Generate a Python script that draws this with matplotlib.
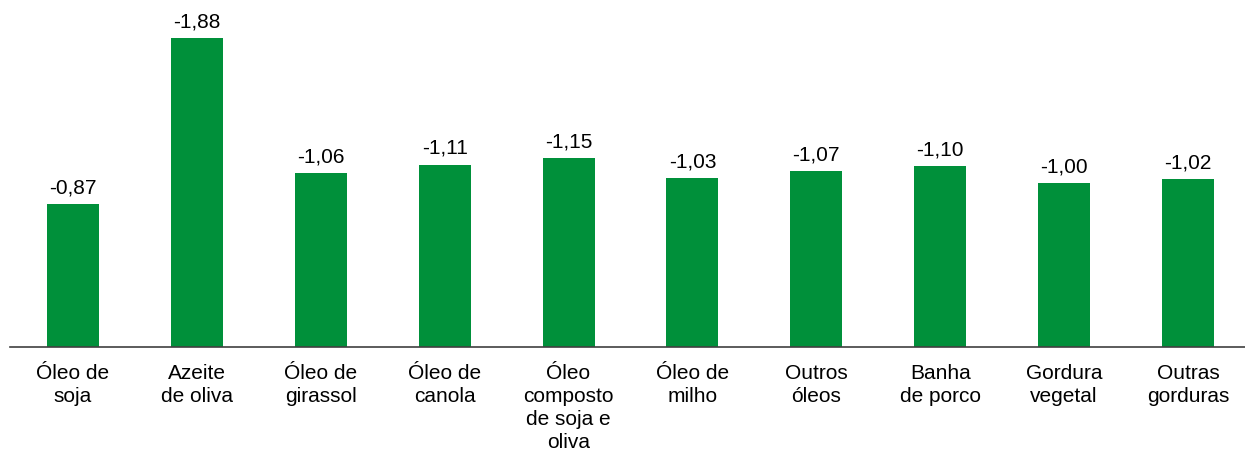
import matplotlib.pyplot as plt

plt.rcParams['font.family'] = ['Liberation Sans', 'DejaVu Sans']

categories = ["Óleo de\nsoja", "Azeite\nde oliva", "Óleo de\ngirassol", "Óleo de\ncanola",
              "Óleo\ncomposto\nde soja e\noliva", "Óleo de\nmilho", "Outros\nóleos",
              "Banha\nde porco", "Gordura\nvegetal", "Outras\ngorduras"]
values = [-0.87, -1.88, -1.06, -1.11, -1.15, -1.03, -1.07, -1.10, -1.00, -1.02]
labels = ["-0,87", "-1,88", "-1,06", "-1,11", "-1,15", "-1,03", "-1,07", "-1,10", "-1,00", "-1,02"]

green = '#00903a'

fig = plt.figure(figsize=(12.45, 4.5), dpi=100)
ax = fig.add_axes([10/1245, 1 - 347/450, 1235/1245, 347/450])

x = range(len(values))
heights = [abs(v) for v in values]
ax.bar(x, heights, width=0.42, color=green)

for xi, h, lab in zip(x, heights, labels):
    ax.text(xi, h + 0.04, lab, ha='center', va='bottom', fontsize=15)

ax.set_xlim(-0.508, -0.508 + 1235/123.9)
ax.set_ylim(0, 1.88 * 347 / 309)
ax.set_xticks(list(x))
ax.set_xticklabels(categories, fontsize=15, linespacing=1.27, va='top')
ax.tick_params(axis='x', length=0, pad=12)
ax.set_yticks([])
for side in ['top', 'right', 'left']:
    ax.spines[side].set_visible(False)
ax.spines['bottom'].set_color('#404040')
ax.spines['bottom'].set_linewidth(1.2)

fig.savefig('out.png', dpi=100)
